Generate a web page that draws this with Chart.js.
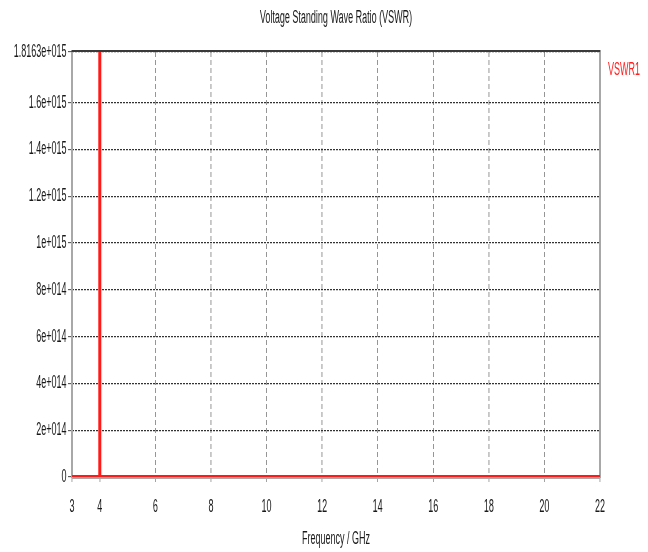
<!DOCTYPE html>
<html>
<head>
<meta charset="utf-8">
<script src="https://cdn.jsdelivr.net/npm/chart.js@4/dist/chart.umd.min.js"></script>
<style>
  html, body { margin: 0; padding: 0; background: #fff; overflow: hidden; }
  /* the plot is drawn wide and squeezed horizontally for the narrow lettering */
  #wrap { width: 1296px; height: 552px; transform: scaleX(0.5); transform-origin: 0 0; }
</style>
</head>
<body>
<div id="wrap"><canvas id="c" width="1296" height="552"></canvas></div>
<script>
const SX = 0.5;

// VSWR1 trace: frequency (GHz) and ratio
const freqGHz = [3, 4, 4, 4, 22];
const vswr1 = [0, 0, 1.8163e15, 0, 0];

// axis ticks
const xTickValues = [3, 4, 6, 8, 10, 12, 14, 16, 18, 20, 22];
const yTickValues = [0, 2e14, 4e14, 6e14, 8e14, 1e15, 1.2e15, 1.4e15, 1.6e15, 1.8163e15];

const titleText = 'Voltage Standing Wave Ratio (VSWR)';
const xAxisTitle = 'Frequency / GHz';
const seriesName = 'VSWR1';

const FONT = 'Liberation Sans, Arial, sans-serif';
const FS = 18;
const TEXT = '#1a1a1a';

function expLabel(v) {
  if (v === 0) return '0';
  const e = Math.floor(Math.log10(Math.abs(v)) + 1e-9);
  const m = parseFloat((v / Math.pow(10, e)).toFixed(4));
  const sign = e < 0 ? '-' : '+';
  return m + 'e' + sign + String(Math.abs(e)).padStart(3, '0');
}

// plot frame: grey sides, dark top
const framePlugin = {
  id: 'frame',
  beforeDatasetsDraw(chart) {
    const { ctx, chartArea: a } = chart;
    ctx.save();
    ctx.strokeStyle = '#a8a8a8';
    ctx.lineWidth = 2 / SX;
    ctx.beginPath();
    ctx.moveTo(a.left, a.top); ctx.lineTo(a.left, a.bottom + 1);
    ctx.moveTo(a.right, a.top); ctx.lineTo(a.right, a.bottom + 1);
    ctx.moveTo(a.left, a.bottom); ctx.lineTo(a.right, a.bottom);
    ctx.stroke();
    ctx.strokeStyle = '#3a3a3a';
    ctx.lineWidth = 2;
    ctx.beginPath();
    ctx.moveTo(a.left - 1, a.top - 1); ctx.lineTo(a.right + 1, a.top - 1);
    ctx.stroke();
    ctx.restore();
  }
};

// series name to the right of the plot
const seriesLabelPlugin = {
  id: 'seriesLabel',
  afterDraw(chart) {
    const { ctx, chartArea: a } = chart;
    ctx.save();
    ctx.font = FS + 'px ' + FONT;
    ctx.fillStyle = '#ff2020';
    ctx.textAlign = 'left';
    ctx.textBaseline = 'middle';
    ctx.fillText(seriesName, a.right + 8 / SX, 70);
    ctx.restore();
  }
};

new Chart(document.getElementById('c'), {
  type: 'line',
  data: {
    datasets: [{
      label: seriesName,
      data: freqGHz.map((f, i) => ({ x: f, y: vswr1[i] })),
      borderColor: '#ff1a1a',
      borderWidth: 4,
      pointRadius: 0,
      tension: 0,
      segment: {
        borderWidth: c => (c.p0.parsed.x === c.p1.parsed.x ? 3 / SX : 4)
      }
    }]
  },
  options: {
    responsive: false,
    animation: false,
    devicePixelRatio: 1,
    layout: { padding: { left: 0, right: 96, top: 0, bottom: 0 } },
    plugins: {
      legend: { display: false },
      tooltip: { enabled: false },
      title: {
        display: true,
        text: titleText,
        fullSize: false,
        color: TEXT,
        font: { family: FONT, size: FS, weight: 'normal', lineHeight: 1.2 },
        padding: { top: 7, bottom: 23.4 }
      }
    },
    scales: {
      x: {
        type: 'linear',
        min: 3,
        max: 22,
        afterBuildTicks: s => { s.ticks = xTickValues.map(v => ({ value: v })); },
        afterFit: s => { s.height = 75; },
        border: { display: false, dash: [5, 3] },
        grid: {
          color: '#8a8a8a',
          lineWidth: 1.8,
          drawTicks: true,
          tickLength: 5,
          tickColor: '#9a9a9a',
          tickWidth: 1.8,
          tickBorderDash: []
        },
        ticks: {
          color: TEXT,
          font: { family: FONT, size: FS },
          padding: 14,
          autoSkip: false,
          maxRotation: 0,
          callback: v => String(v)
        },
        title: {
          display: true,
          text: xAxisTitle,
          color: TEXT,
          font: { family: FONT, size: FS, lineHeight: 1.2 },
          padding: { top: 0, bottom: 2 }
        }
      },
      y: {
        type: 'linear',
        min: 0,
        max: 1.8163e15,
        afterBuildTicks: s => { s.ticks = yTickValues.map(v => ({ value: v })); },
        afterFit: s => { s.width = 144; },
        border: { display: false, dash: [4, 2] },
        grid: {
          color: '#333',
          lineWidth: 1.3,
          drawTicks: true,
          tickLength: 4 / SX,
          tickColor: '#444',
          tickWidth: 1,
          tickBorderDash: []
        },
        ticks: {
          color: TEXT,
          font: { family: FONT, size: FS },
          padding: 3,
          callback: v => expLabel(v)
        }
      }
    }
  },
  plugins: [framePlugin, seriesLabelPlugin]
});
</script>
</body>
</html>
